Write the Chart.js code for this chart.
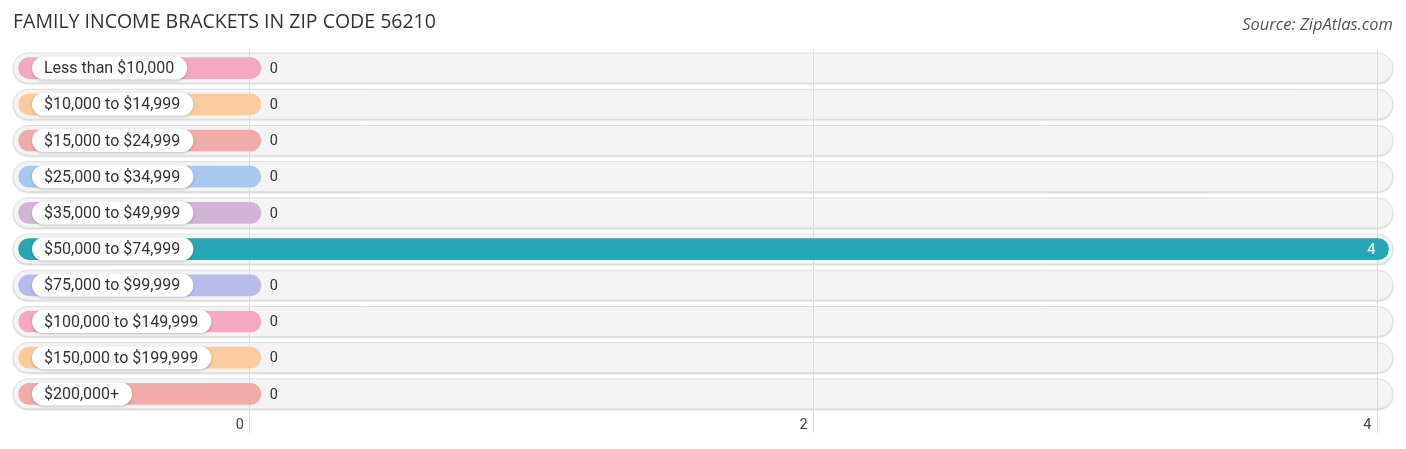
<!DOCTYPE html>
<html>
<head>
<meta charset="utf-8">
<script src="https://cdn.jsdelivr.net/npm/chart.js@4.4.0/dist/chart.umd.min.js"></script>
<style>
  html, body { margin: 0; padding: 0; background: #fff; }
  #wrap { position: relative; width: 1406px; height: 449px; }
  #title { position: absolute; left: 13px; top: 7px; font: 400 19.5px 'Open Sans', sans-serif; color: #333; }
  #source { position: absolute; right: 13px; top: 12px; font: italic 400 16.5px 'Open Sans', sans-serif; color: #555; }
</style>
</head>
<body>
<div id="wrap">
  <div id="title">FAMILY INCOME BRACKETS IN ZIP CODE 56210</div>
  <div id="source">Source: ZipAtlas.com</div>
  <canvas id="chart" width="1406" height="449"></canvas>
</div>
<script>
const categories = [
  'Less than $10,000', '$10,000 to $14,999', '$15,000 to $24,999', '$25,000 to $34,999',
  '$35,000 to $49,999', '$50,000 to $74,999', '$75,000 to $99,999', '$100,000 to $149,999',
  '$150,000 to $199,999', '$200,000+'
];
const values = [0, 0, 0, 0, 0, 4, 0, 0, 0, 0];
const tickValues = [0, 2, 4];
const barColors = [
  '#f6a8c1', '#fccb9c', '#f1aca9', '#a9c8ed', '#d2b4d7',
  '#27a6b7', '#b6bdec', '#f6a8c1', '#fccb9c', '#f1aca9'
];

const X_MIN = -0.84;
const X_MAX = 4.055;

function roundRect(ctx, x, y, w, h, r) {
  ctx.beginPath();
  ctx.moveTo(x + r, y);
  ctx.lineTo(x + w - r, y);
  ctx.arc(x + w - r, y + r, r, -Math.PI / 2, Math.PI / 2);
  ctx.lineTo(x + r, y + h);
  ctx.arc(x + r, y + r, r, Math.PI / 2, Math.PI * 1.5);
  ctx.closePath();
}

// grey rounded rows behind everything (grid lines show through them)
const tracks = {
  id: 'tracks',
  beforeDraw(chart) {
    const { ctx, chartArea, scales } = chart;
    ctx.save();
    categories.forEach((c, i) => {
      const y = scales.y.getPixelForValue(i);
      const h = 30;
      ctx.shadowColor = 'rgba(0,0,0,0.22)';
      ctx.shadowBlur = 2;
      ctx.shadowOffsetY = 1;
      roundRect(ctx, chartArea.left, y - h / 2, chartArea.right - chartArea.left, h, h / 2);
      ctx.fillStyle = '#f4f4f4';
      ctx.fill();
      ctx.shadowColor = 'transparent';
      ctx.strokeStyle = '#dedede';
      ctx.lineWidth = 1;
      ctx.stroke();
    });
    ctx.restore();
  }
};

// round cap sits past the value point
const capOffset = {
  id: 'capOffset',
  afterDatasetsUpdate(chart) {
    chart.getDatasetMeta(0).data.forEach(el => { el.x += 11; });
  }
};

// label pills and value numbers
const labels = {
  id: 'labels',
  afterDatasetsDraw(chart) {
    const { ctx, scales } = chart;
    const bars = chart.getDatasetMeta(0).data;
    ctx.save();
    categories.forEach((c, i) => {
      const y = scales.y.getPixelForValue(i);
      ctx.font = '400 16px Roboto, sans-serif';
      const w = ctx.measureText(c).width + 25;
      const h = 23;
      ctx.shadowColor = 'rgba(0,0,0,0.22)';
      ctx.shadowBlur = 3;
      ctx.shadowOffsetY = 1;
      roundRect(ctx, 32, y - h / 2, w, h, h / 2);
      ctx.fillStyle = '#fff';
      ctx.fill();
      ctx.shadowColor = 'transparent';
      ctx.fillStyle = '#333';
      ctx.textBaseline = 'middle';
      ctx.textAlign = 'left';
      ctx.fillText(c, 44, y + 1);

      const end = bars[i].x;
      ctx.font = '400 14.5px Roboto, sans-serif';
      if (values[i] > 0) {
        ctx.fillStyle = '#fff';
        ctx.textAlign = 'right';
        ctx.fillText(String(values[i]), end - 13, y + 1);
      } else {
        ctx.fillStyle = '#333';
        ctx.textAlign = 'left';
        ctx.fillText(String(values[i]), end + 9, y + 1);
      }
    });
    ctx.restore();
  }
};

new Chart(document.getElementById('chart'), {
  type: 'bar',
  data: {
    labels: categories,
    datasets: [{
      data: values,
      base: -0.82,
      backgroundColor: barColors,
      borderRadius: 11,
      borderSkipped: false,
      barThickness: 21
    }]
  },
  options: {
    indexAxis: 'y',
    responsive: false,
    animation: false,
    events: [],
    layout: { padding: { top: 50, left: 13, right: 13, bottom: 0 } },
    plugins: { legend: { display: false }, tooltip: { enabled: false } },
    scales: {
      x: {
        min: X_MIN,
        max: X_MAX,
        afterBuildTicks: s => { s.ticks = tickValues.map(v => ({ value: v })); },
        afterFit: s => { s.height = 37; },
        border: { display: false },
        grid: { color: '#dcdcdc', lineWidth: 1, drawTicks: true, tickLength: 21, tickColor: '#dcdcdc' },
        ticks: {
          align: 'end',
          labelOffset: -6,
          padding: -16,
          color: '#444',
          font: { family: 'Roboto', size: 14.5 }
        }
      },
      y: {
        display: false
      }
    }
  },
  plugins: [tracks, capOffset, labels]
});
</script>
</body>
</html>
